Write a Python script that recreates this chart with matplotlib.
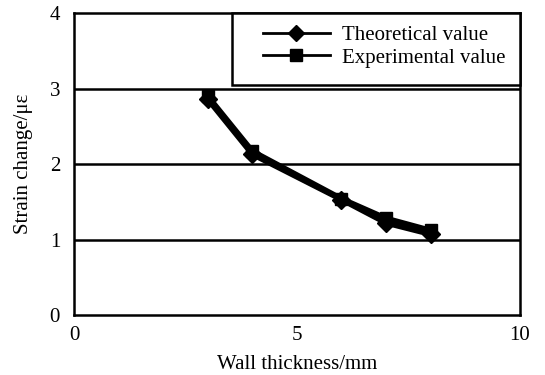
import matplotlib
matplotlib.use('Agg')
import matplotlib.pyplot as plt
from matplotlib.lines import Line2D
from matplotlib.patches import Rectangle

plt.rcParams['font.family'] = ['Liberation Serif', 'DejaVu Serif']

# Wall thickness (mm) and strain change (microstrain)
thickness = [3, 4, 6, 7, 8]
theoretical = [2.86, 2.13, 1.53, 1.22, 1.07]
experimental = [2.90, 2.17, 1.54, 1.28, 1.12]

x_ticks = [0, 5, 10]
y_ticks = [0, 1, 2, 3, 4]

fig = plt.figure(figsize=(5.45, 3.75), dpi=100)
ax = fig.add_axes([0.1358, 0.16, 0.818, 0.805])

for y in y_ticks[1:-1]:
    ax.axhline(y, color='black', lw=1.8, zorder=1)

ax.plot(thickness, theoretical, color='black', lw=4, marker='D',
        markersize=9, zorder=3)
ax.plot(thickness, experimental, color='black', lw=4, marker='s',
        markersize=9, zorder=3)

ax.set_xlim(0, 10)
ax.set_ylim(0, 4)
ax.set_xticks(x_ticks)
ax.set_yticks(y_ticks)
ax.tick_params(axis='x', length=0, labelsize=15, pad=8)
ax.tick_params(axis='y', length=0, labelsize=15, pad=10)
for s in ax.spines.values():
    s.set_linewidth(1.8)

ax.set_xlabel('Wall thickness/mm', fontsize=15, labelpad=7)
ax.set_ylabel('Strain change/\u03bc\u03b5', fontsize=15, labelpad=12)

# legend box drawn separately so it can be wider than its contents
ax.add_patch(Rectangle((0.354, 0.762), 0.646, 0.238, transform=ax.transAxes,
                       facecolor='white', edgecolor='black', lw=1.8,
                       zorder=4, clip_on=False))
handles = [Line2D([], [], color='black', lw=2, marker='D', markersize=8),
           Line2D([], [], color='black', lw=2, marker='s', markersize=8)]
leg = ax.legend(handles, ['Theoretical value', 'Experimental value'],
                loc='upper right', bbox_to_anchor=(0.982, 0.98), fontsize=15,
                frameon=False, borderaxespad=0, handlelength=3.2,
                handletextpad=0.6, borderpad=0.3, labelspacing=0.15)
leg.set_zorder(5)

fig.savefig('out.png', dpi=100)
